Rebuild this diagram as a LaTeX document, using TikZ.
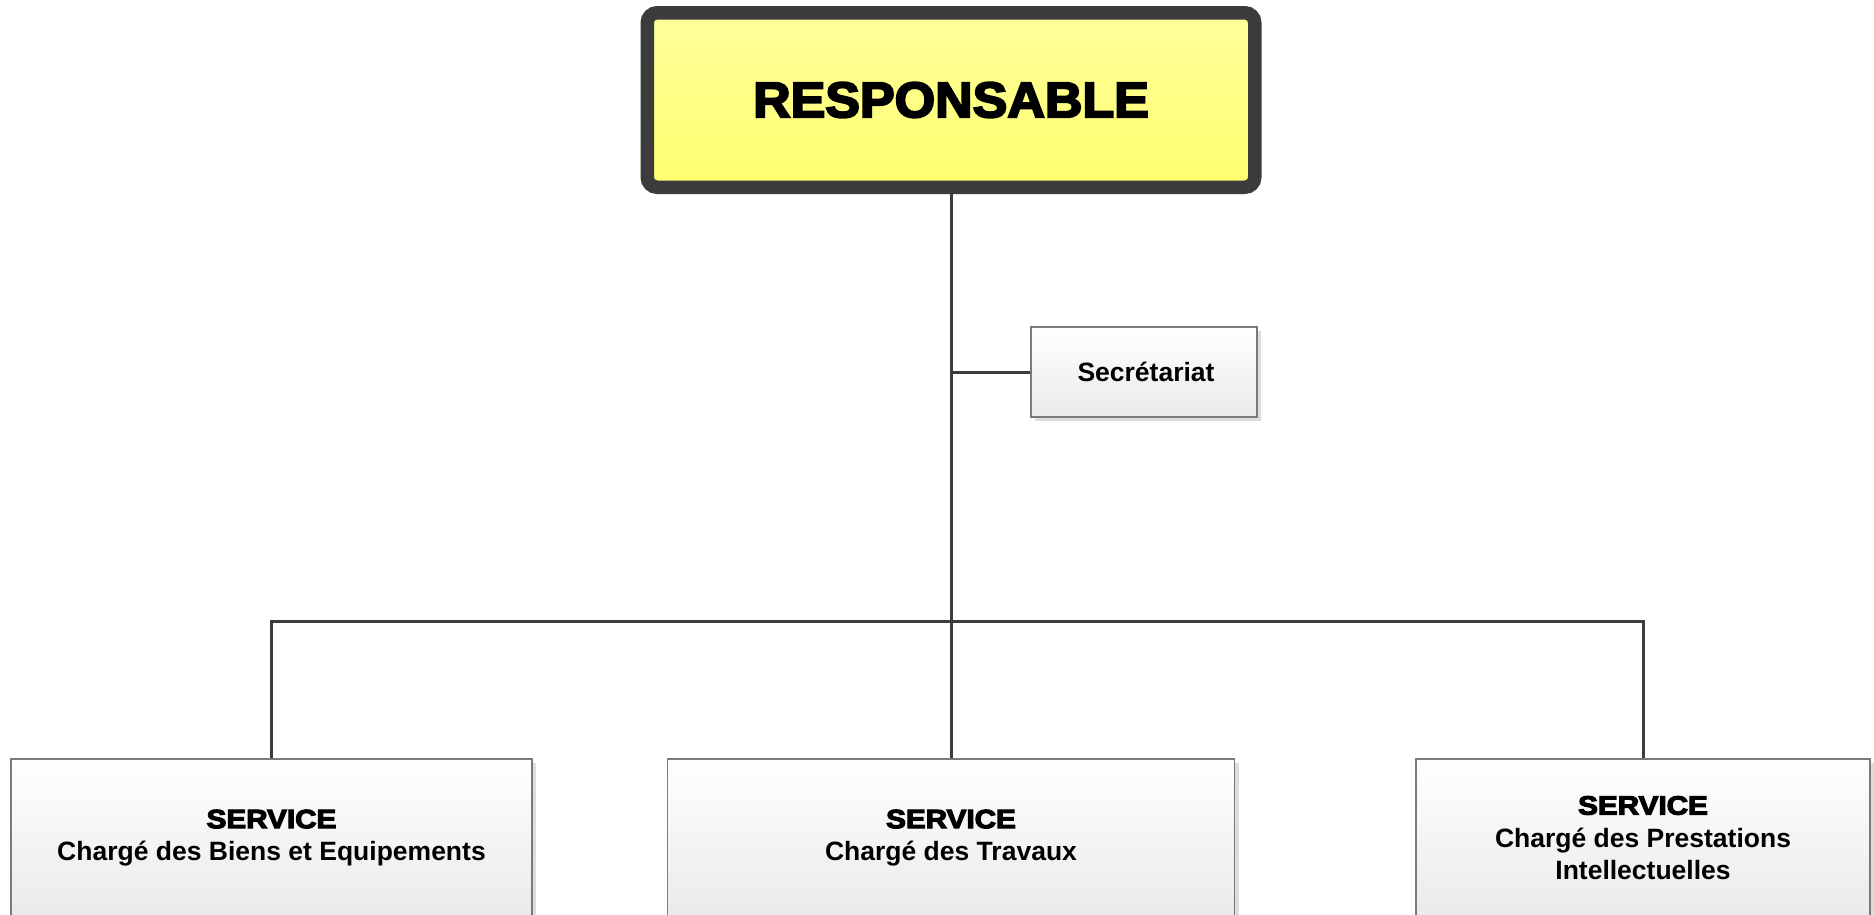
\documentclass[tikz,border=0pt]{standalone}
\usepackage{fontspec}
\usepackage{graphicx}
\setmainfont{Liberation Sans}
\newfontfamily\heavyfont{Liberation Sans Bold}[FakeBold=4]
\usetikzlibrary{shadows}
\definecolor{linec}{HTML}{3C3C3C}
\definecolor{boxline}{HTML}{7A7A7A}
\definecolor{yellowtop}{HTML}{FFFF9C}
\definecolor{yellowbot}{HTML}{FFFF6E}
\definecolor{graybot}{HTML}{EAEAEA}
\definecolor{shadowc}{HTML}{DDDDDD}
\begin{document}
\begin{tikzpicture}[x=1pt,y=-1pt,
  conn/.style={draw=linec, line width=3pt},
  topbox/.style={draw=linec, line width=13.5pt, rounded corners=10pt,
    top color=yellowtop, bottom color=yellowbot,
    minimum width=607.5pt, minimum height=174.5pt, inner sep=0pt,
    drop shadow={shadow xshift=4pt, shadow yshift=-4pt, fill=shadowc, opacity=1}},
  secbox/.style={draw=boxline, line width=1.3pt, top color=white, bottom color=graybot,
    minimum width=226pt, minimum height=90pt, inner sep=0pt,
    font=\fontsize{26.5}{33}\selectfont\bfseries,
    drop shadow={shadow xshift=4pt, shadow yshift=-4pt, fill=shadowc, opacity=1}},
  servbox/.style={draw=boxline, line width=1.3pt, top color=white, bottom color=graybot,
    minimum height=158pt, inner sep=0pt, align=center,
    font=\fontsize{26.5}{32.5}\selectfont\bfseries,
    drop shadow={shadow xshift=4pt, shadow yshift=-4pt, fill=shadowc, opacity=1}},
]
\useasboundingbox[fill=white] (0,0) rectangle (1874,914);

\node[topbox] (top) at (951,100) {\fontsize{50}{50}\selectfont\heavyfont\scalebox{1.04}[1]{RESPONSABLE}};
\node[secbox] (sec) at (1144,372) {\hspace{4pt}Secrétariat};
\node[servbox, minimum width=521pt] (s1) at (271.5,838)
  {{\heavyfont\scalebox{1.12}[1]{SERVICE}}\\Chargé des Biens et Equipements};
\node[servbox, minimum width=567pt] (s2) at (951,838)
  {{\heavyfont\scalebox{1.12}[1]{SERVICE}}\\Chargé des Travaux};
\node[servbox, minimum width=454pt] (s3) at (1643,838)
  {{\heavyfont\scalebox{1.12}[1]{SERVICE}}\\Chargé des Prestations\\Intellectuelles};

\coordinate (bus) at (951,621);
\draw[conn] (top.south) -- (s2.north);
\draw[conn] (top.south |- sec.west) -- (sec.west);
\draw[conn] (s1.north) -- (s1.north |- bus) -- (s3.north |- bus) -- (s3.north);
\end{tikzpicture}
\end{document}
